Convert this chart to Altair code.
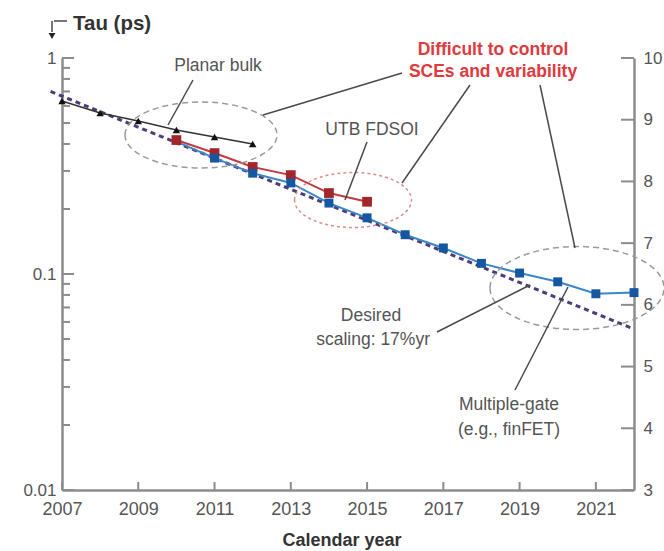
import altair as alt
import pandas as pd

# ---- data -------------------------------------------------------------
bulk_years = [2007, 2008, 2009, 2010, 2011, 2012]
bulk_tau = [0.632, 0.556, 0.511, 0.464, 0.431, 0.400]

utb_years = [2010, 2011, 2012, 2013, 2014, 2015]
utb_tau = [0.417, 0.363, 0.313, 0.287, 0.237, 0.216]

mg_years = [2010, 2011, 2012, 2013, 2014, 2015, 2016, 2017, 2018, 2019, 2020, 2021, 2022]
mg_tau = [0.410, 0.344, 0.293, 0.264, 0.213, 0.182, 0.152, 0.132, 0.112, 0.101, 0.092, 0.081, 0.082]

desired_years = [2006.7, 2022]
desired_tau = [0.70, 0.0556]

year_ticks = [2007, 2009, 2011, 2013, 2015, 2017, 2019, 2021]
tau_major = [0.01, 0.1, 1]
tau_minor = [0.02, 0.03, 0.04, 0.05, 0.06, 0.07, 0.08, 0.09,
             0.2, 0.3, 0.4, 0.5, 0.6, 0.7, 0.8, 0.9]
right_ticks = [3, 4, 5, 6, 7, 8, 9, 10]

# ---- layout / style ---------------------------------------------------
W, H = 572, 432
SANS = "Liberation Sans, Arial, sans-serif"
AXIS_GREY = "#8c8c8c"
LABEL_GREY = "#555555"
TEXT_GREY = "#555555"
LEADER = "#4a4a4a"

X = alt.X(
    "year:Q",
    scale=alt.Scale(domain=[2007, 2022], nice=False, zero=False),
    axis=alt.Axis(values=year_ticks, format="d", ticks=False, grid=False,
                  domainColor=AXIS_GREY, domainWidth=2.5, labelFlush=False,
                  labelColor=LABEL_GREY, labelFont=SANS, labelFontSize=18,
                  labelPadding=10, title=None),
)
Y = alt.Y(
    "tau:Q",
    scale=alt.Scale(type="log", domain=[0.01, 1], nice=False),
    axis=alt.Axis(values=tau_major, format="~g", ticks=False, grid=False,
                  domainColor=AXIS_GREY, domainWidth=2.5, labelFlush=False,
                  labelColor=LABEL_GREY, labelFont=SANS, labelFontSize=17,
                  labelPadding=6, title=None),
)


def series(years, taus):
    return pd.DataFrame({"year": years, "tau": taus})


desired = alt.Chart(series(desired_years, desired_tau)).mark_line(
    color="#4e3c7a", strokeWidth=3, strokeDash=[5, 4], clip=False
).encode(x=X, y=Y)

bulk_line = alt.Chart(series(bulk_years, bulk_tau)).mark_line(
    color="#333333", strokeWidth=1.6
).encode(x=X, y=Y)
bulk_pts = alt.Chart(series(bulk_years, bulk_tau)).mark_point(
    shape="triangle-up", filled=True, color="#111111", size=55, opacity=1
).encode(x=X, y=Y)

utb_line = alt.Chart(series(utb_years, utb_tau)).mark_line(
    color="#c23b40", strokeWidth=2
).encode(x=X, y=Y)
utb_pts = alt.Chart(series(utb_years, utb_tau)).mark_point(
    shape="square", filled=True, color="#a3262b", size=95, opacity=1
).encode(x=X, y=Y)

mg_line = alt.Chart(series(mg_years, mg_tau)).mark_line(
    color="#3a86c8", strokeWidth=2
).encode(x=X, y=Y)
mg_pts = alt.Chart(series(mg_years[1:], mg_tau[1:])).mark_point(
    shape="square", filled=True, color="#1557a0", size=80, opacity=1
).encode(x=X, y=Y)

# inward tick marks on the left (log) axis
left_major = alt.Chart(pd.DataFrame({"tau": tau_major})).mark_rule(
    color=AXIS_GREY, strokeWidth=2
).encode(y=Y, x=alt.value(0), x2=alt.value(12))
left_minor = alt.Chart(pd.DataFrame({"tau": tau_minor})).mark_rule(
    color=AXIS_GREY, strokeWidth=2
).encode(y=Y, x=alt.value(0), x2=alt.value(8))
# inward tick marks on the bottom axis
bottom_ticks = alt.Chart(pd.DataFrame({"year": year_ticks})).mark_rule(
    color=AXIS_GREY, strokeWidth=2
).encode(x=X, y=alt.value(H), y2=alt.value(H - 8))

one = alt.Data(values=[{}])


def ellipse(cx, cy, w, h, color, dash):
    r = h / w
    path = f"M-1,0A1,{r:.3f},0,1,1,1,0A1,{r:.3f},0,1,1,-1,0Z"
    return alt.Chart(one).mark_point(
        shape=path, filled=False, stroke=color, strokeWidth=1.5,
        strokeDash=dash, size=w * w, opacity=1, clip=False
    ).encode(x=alt.value(cx), y=alt.value(cy))


def leader(x1, y1, x2, y2):
    return alt.Chart(one).mark_rule(color=LEADER, strokeWidth=1.5).encode(
        x=alt.value(x1), y=alt.value(y1), x2=alt.value(x2), y2=alt.value(y2)
    )


def label(txt, x, y, size=17.5, color=TEXT_GREY, bold=False, align="center"):
    return alt.Chart(one).mark_text(
        text=txt, fontSize=size, color=color, font=SANS,
        fontWeight="bold" if bold else "normal", align=align,
        baseline="middle"
    ).encode(x=alt.value(x), y=alt.value(y))


ellipses = [
    ellipse(139, 77, 152, 66, "#9a9a9a", [6, 4]),
    ellipse(291, 142, 117, 55, "#e08a8a", [3, 3]),
    ellipse(515, 230, 174, 83, "#9a9a9a", [6, 4]),
]

leaders = [
    leader(131, 22, 106, 67),     # Planar bulk
    leader(340, 15, 201, 57),     # SCEs -> planar ellipse
    leader(408, 27, 340, 125),    # SCEs -> UTB ellipse
    leader(478, 27, 513, 190),    # SCEs -> multi-gate ellipse
    leader(305, 84, 283, 142),    # UTB FDSOI
    leader(375, 274, 468, 227),   # desired scaling
    leader(453, 332, 506, 229),   # multiple-gate
]

RED = "#e0393e"
labels = [
    label("Tau (ps)", 11, -34, size=20.5, color="#333333", bold=True,
          align="left"),
    label("Planar bulk", 156, 8),
    label("Difficult to control", 431, -8, size=17.5, color=RED, bold=True),
    label("SCEs and variability", 431, 14, size=17.5, color=RED, bold=True),
    label("UTB FDSOI", 310, 72),
    label("Desired", 309, 258),
    label("scaling: 17%yr", 368, 282, align="right"),
    label("Multiple-gate", 447, 347),
    label("(e.g., finFET)", 447, 372),
    label("Calendar year", 280, 483, size=18, color="#333333", bold=True),
]

# small bent arrow beside the y-axis title
arrow = [
    leader(-8, -37, 5, -37),
    leader(-10, -37, -10, -26),
    alt.Chart(one).mark_point(shape="triangle-down", filled=True,
                              color="#222222", size=45, opacity=1).encode(
        x=alt.value(-10), y=alt.value(-22)),
]

left = alt.layer(
    desired, bulk_line, utb_line, mg_line, bulk_pts, utb_pts, mg_pts,
    left_major, left_minor, bottom_ticks,
    *ellipses, *leaders, *labels, *arrow,
)

# secondary scale on the right-hand side
right = alt.Chart(pd.DataFrame({"v": right_ticks})).mark_rule(
    color=AXIS_GREY, strokeWidth=2
).encode(
    y=alt.Y("v:Q", scale=alt.Scale(domain=[3, 10], nice=False, zero=False),
            axis=alt.Axis(orient="right", values=right_ticks, ticks=False,
                          grid=False, domainColor=AXIS_GREY, domainWidth=2.5,
                          labelColor=LABEL_GREY, labelFont=SANS,
                          labelFontSize=17, labelPadding=9, labelFlush=False,
                          title=None)),
    x=alt.value(W - 13), x2=alt.value(W),
)

chart = alt.layer(left, right).resolve_scale(y="independent").properties(
    width=W, height=H,
    autosize=alt.AutoSizeParams(type="none"),
    padding={"left": 62, "top": 58, "right": 30, "bottom": 61},
    background="white",
).configure_view(stroke=None)

chart.save("out.html", embed_options={"renderer": "svg", "actions": False})
